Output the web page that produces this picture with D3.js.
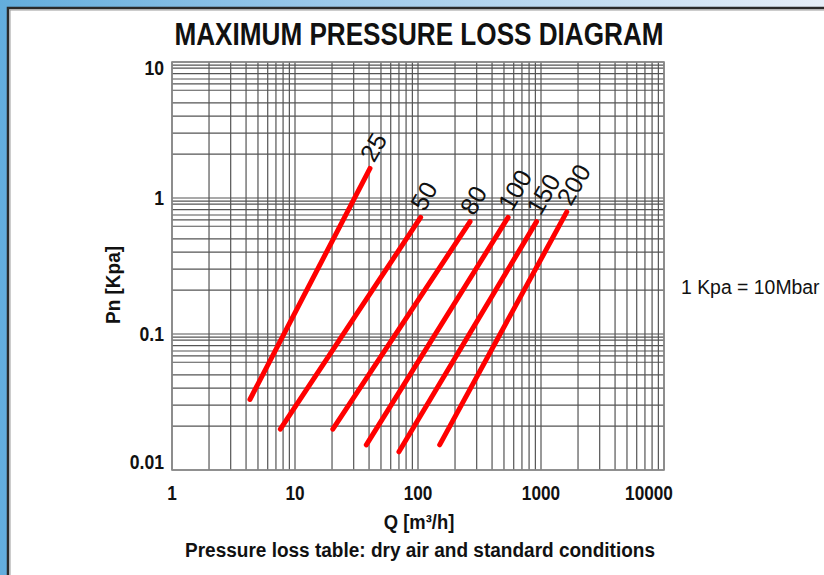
<!DOCTYPE html>
<html>
<head>
<meta charset="utf-8">
<script src="https://cdn.jsdelivr.net/npm/d3@7"></script>
<style>
  html, body { margin: 0; padding: 0; background: #fff; }
  svg { display: block; }
  text { font-family: "Liberation Sans", Arial, sans-serif; fill: #111; }
</style>
</head>
<body>
<div id="chart"></div>
<script>
// pipe sizes (DN) and the ends of each pressure loss line
const sizes = ['25', '50', '80', '100', '150', '200'];
const qStart = [4.3, 7.6, 20.3, 38, 70, 150];
const qEnd = [40.7, 105, 265, 540, 920, 1620];
const pStart = [0.033, 0.020, 0.020, 0.0153, 0.0136, 0.0153];
const pEnd = [1.65, 0.72, 0.67, 0.72, 0.67, 0.79];

// axis labels
const xTickValues = [1, 10, 100, 1000, 10000];
const yTickValues = [10, 1, 0.1, 0.01];
const yTickLabels = ['10', '1', '0.1', '0.01'];
// the drawn chart has a few extra horizontal rules in each decade
const yMinorMantissas = [9.5, 9, 8.2, 7.5, 6.9, 6.2, 5, 4, 3, 2.1];
const yDecades = [1, 0.1, 0.01];

let width = 824;
let height = 575;

let svg = d3.select('#chart').append('svg')
    .attr('width', width)
    .attr('height', height);

//Fondo con marco azul
let defs = svg.append('defs');
let grad = defs.append('linearGradient').attr('id', 'frame').attr('x1', 0).attr('x2', 1).attr('y1', 0).attr('y2', 0);
grad.append('stop').attr('offset', '0%').attr('stop-color', '#63addd');
grad.append('stop').attr('offset', '40%').attr('stop-color', '#9cc9ea');
grad.append('stop').attr('offset', '100%').attr('stop-color', '#e6eef8');

svg.append('rect').attr('width', width).attr('height', height).attr('fill', 'url(#frame)');
svg.append('rect')
    .attr('x', 8).attr('y', 8)
    .attr('width', width + 20).attr('height', height + 20)
    .attr('fill', '#fff')
    .attr('stroke', '#2a2a2a')
    .attr('stroke-width', 2.5);
svg.append('rect')
    .attr('x', 10).attr('y', 10)
    .attr('width', width + 20).attr('height', height + 20)
    .attr('fill', 'none')
    .attr('stroke', '#9a9a9a')
    .attr('stroke-width', 1);

const margin = {left: 172, right: 160, top: 62, bottom: 105};

const x = d3.scaleLog().domain([1, 10000]).range([margin.left, width - margin.right]);
const y = d3.scaleLog().domain([0.01, 10]).range([height - margin.bottom, margin.top]);

//Rejilla
let yGrid = [];
yDecades.forEach(function(dec) {
    yMinorMantissas.forEach(function(m) { yGrid.push(m * dec); });
});
yGrid = yGrid.concat(yTickValues);

let grid = svg.append('g').attr('stroke', '#555').attr('stroke-width', 1.2);

grid.selectAll('.vx')
    .data(x.ticks())
    .enter()
    .append('line')
    .attr('x1', d => x(d)).attr('x2', d => x(d))
    .attr('y1', y(10)).attr('y2', y(0.01));

grid.selectAll('.hy')
    .data(yGrid)
    .enter()
    .append('line')
    .attr('x1', x(1)).attr('x2', x(10000))
    .attr('y1', d => y(d)).attr('y2', d => y(d));

svg.append('rect')
    .attr('x', x(1)).attr('y', y(10))
    .attr('width', x(10000) - x(1))
    .attr('height', y(0.01) - y(10))
    .attr('fill', 'none')
    .attr('stroke', '#8a8a8a')
    .attr('stroke-width', 1.6);

//Lineas de perdida de carga
let lines = sizes.map(function(s, i) {
    return {size: s, pts: [[qStart[i], pStart[i]], [qEnd[i], pEnd[i]]]};
});

let lineGen = d3.line().x(d => x(d[0])).y(d => y(d[1]));

svg.append('g')
    .selectAll('path')
    .data(lines)
    .enter()
    .append('path')
    .attr('d', d => lineGen(d.pts))
    .attr('fill', 'none')
    .attr('stroke', '#ff0000')
    .attr('stroke-width', 5)
    .attr('stroke-linecap', 'round');

svg.append('g')
    .selectAll('text')
    .data(lines)
    .enter()
    .append('text')
    .attr('transform', function(d) {
        let px = x(d.pts[1][0]) + 4;
        let py = y(d.pts[1][1]) - 5;
        return 'translate(' + px + ',' + py + ') rotate(-60)';
    })
    .style('font-size', '25px')
    .text(d => d.size);

//Helpers
function squeeze(sel, k) {
    sel.each(function() {
        let w = this.getComputedTextLength();
        d3.select(this).attr('textLength', w * k).attr('lengthAdjust', 'spacingAndGlyphs');
    });
}

//Ejes
let yLab = svg.append('g')
    .selectAll('text')
    .data(yTickValues)
    .enter()
    .append('text')
    .attr('x', x(1) - 8)
    .attr('y', function(d, i) {
        if (i == 0) return y(d) + 13;
        if (i == yTickValues.length - 1) return y(d) - 1;
        return y(d) + 7;
    })
    .attr('text-anchor', 'end')
    .style('font-size', '20px')
    .style('font-weight', 'bold')
    .text((d, i) => yTickLabels[i]);
squeeze(yLab, 0.88);

let xLab = svg.append('g')
    .selectAll('text')
    .data(xTickValues)
    .enter()
    .append('text')
    .attr('x', function(d, i) {
        return i == xTickValues.length - 1 ? x(d) - 15 : x(d);
    })
    .attr('y', y(0.01) + 30)
    .attr('text-anchor', 'middle')
    .style('font-size', '20px')
    .style('font-weight', 'bold')
    .text(d => d);
squeeze(xLab, 0.86);

let title = svg.append('text')
    .attr('x', (x(1) + x(10000)) / 2 + 1)
    .attr('y', 45)
    .attr('text-anchor', 'middle')
    .style('font-size', '32px')
    .style('font-weight', 'bold')
    .attr('textLength', 489)
    .attr('lengthAdjust', 'spacingAndGlyphs')
    .text('MAXIMUM PRESSURE LOSS DIAGRAM');

let xTitle = svg.append('text')
    .attr('x', (x(1) + x(10000)) / 2 + 1)
    .attr('y', y(0.01) + 59)
    .attr('text-anchor', 'middle')
    .style('font-size', '20px')
    .style('font-weight', 'bold')
    .text('Q [m³/h]');
squeeze(xTitle, 0.92);

let sub = svg.append('text')
    .attr('x', (x(1) + x(10000)) / 2 + 2)
    .attr('y', y(0.01) + 87)
    .attr('text-anchor', 'middle')
    .style('font-size', '20px')
    .style('font-weight', 'bold')
    .attr('textLength', 470)
    .attr('lengthAdjust', 'spacingAndGlyphs')
    .text('Pressure loss table: dry air and standard conditions');

let yTitle = svg.append('text')
    .attr('transform', 'translate(120,' + ((y(10) + y(0.01)) / 2 + 19) + ') rotate(-90)')
    .attr('text-anchor', 'middle')
    .style('font-size', '20px')
    .style('font-weight', 'bold')
    .text('Pn [Kpa]');
squeeze(yTitle, 0.95);

let note = svg.append('text')
    .attr('x', 681)
    .attr('y', 294)
    .style('font-size', '20px')
    .text('1 Kpa = 10Mbar');
squeeze(note, 0.97);
</script>
</body>
</html>
